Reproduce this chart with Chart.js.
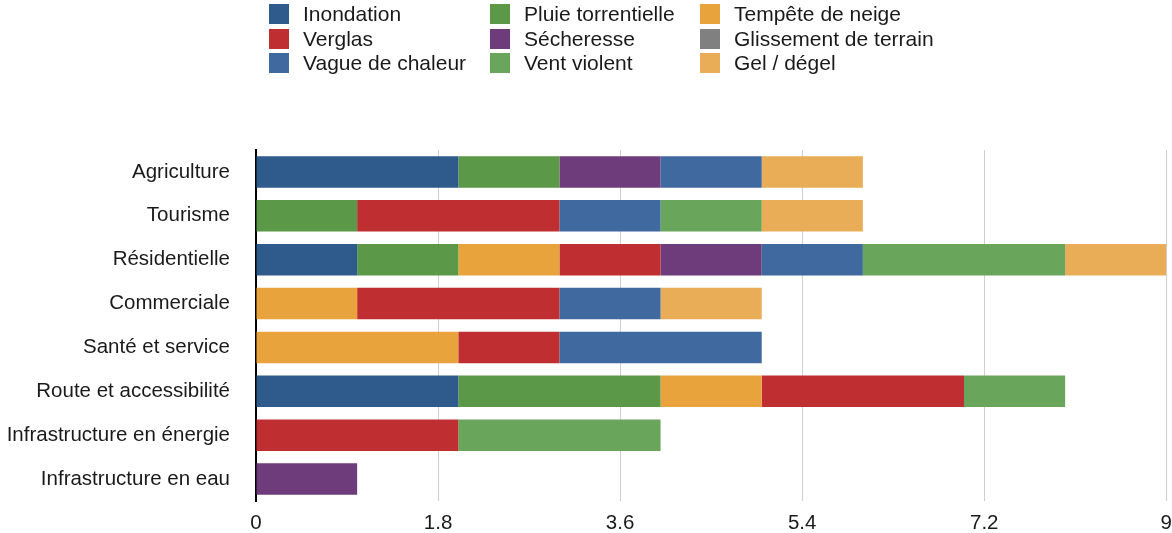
<!DOCTYPE html>
<html>
<head>
<meta charset="utf-8">
<script src="https://cdn.jsdelivr.net/npm/chart.js@4"></script>
<style>
  html, body { margin: 0; padding: 0; background: #fff; }
  #wrap { position: relative; width: 1172px; height: 533px; }
  canvas { position: absolute; left: 0; top: 0; }
  #legend { position: absolute; left: 269px; top: 4px; display: grid;
    grid-template-columns: 221px 210px 240px; row-gap: 4px;
    font-family: "Liberation Sans", Arial, Helvetica, sans-serif; font-size: 21px; color: #1a1a1a; }
  .item { display: flex; align-items: center; height: 20.5px; white-space: nowrap; }
  .sw { width: 20px; height: 20px; margin-right: 14px; flex: none; }
</style>
</head>
<body>
<div id="wrap">
  <canvas id="c" width="1172" height="533"></canvas>
  <div id="legend"></div>
</div>
<script>
const categories = ["Agriculture", "Tourisme", "Résidentielle", "Commerciale", "Santé et service",
  "Route et accessibilité", "Infrastructure en énergie", "Infrastructure en eau"];

const seriesNames = ["Inondation", "Pluie torrentielle", "Tempête de neige", "Verglas", "Sécheresse",
  "Glissement de terrain", "Vague de chaleur", "Vent violent", "Gel / dégel"];

const inondation        = [2, 0, 1, 0, 0, 2, 0, 0];
const pluieTorrentielle = [1, 1, 1, 0, 0, 2, 0, 0];
const tempeteDeNeige    = [0, 0, 1, 1, 2, 1, 0, 0];
const verglas           = [0, 2, 1, 2, 1, 2, 2, 0];
const secheresse        = [1, 0, 1, 0, 0, 0, 0, 1];
const glissement        = [0, 0, 0, 0, 0, 0, 0, 0];
const vagueDeChaleur    = [1, 1, 1, 1, 2, 0, 0, 0];
const ventViolent       = [0, 1, 2, 0, 0, 1, 2, 0];
const gelDegel          = [1, 1, 1, 1, 0, 0, 0, 0];

const xTicks = [0, 1.8, 3.6, 5.4, 7.2, 9];
const xTickLabels = ["0", "1.8", "3.6", "5.4", "7.2", "9"];

const colors = ["#2e5a8c", "#5b9848", "#e8a33c", "#bf2e31", "#6e3b7b", "#808080", "#40699f", "#6aa55c", "#e9ad57"];
const seriesValues = [inondation, pluieTorrentielle, tempeteDeNeige, verglas, secheresse, glissement, vagueDeChaleur, ventViolent, gelDegel];

const leg = document.getElementById('legend');
seriesNames.forEach((n, i) => {
  const d = document.createElement('div');
  d.className = 'item';
  d.innerHTML = '<span class="sw" style="background:' + colors[i] + '"></span><span>' + n + '</span>';
  leg.appendChild(d);
});

const FONT = "'Liberation Sans', Arial, Helvetica, sans-serif";

new Chart(document.getElementById('c'), {
  type: 'bar',
  data: {
    labels: categories,
    datasets: seriesNames.map((n, i) => ({
      label: n,
      data: seriesValues[i],
      backgroundColor: colors[i],
      borderWidth: 0,
      barPercentage: 1,
      categoryPercentage: 0.72
    }))
  },
  options: {
    indexAxis: 'y',
    responsive: false,
    animation: false,
    layout: { padding: { top: 150, right: 0, bottom: 0, left: 0 } },
    plugins: { legend: { display: false }, tooltip: { enabled: false } },
    scales: {
      x: {
        stacked: true,
        min: 0, max: 9,
        afterBuildTicks: (s) => { s.ticks = xTicks.map(v => ({ value: v })); },
        afterFit: (s) => { s.height = 32; },
        ticks: {
          callback: (v, i) => xTickLabels[i],
          color: '#1a1a1a',
          font: { family: FONT, size: 20.5 },
          padding: 0,
          maxRotation: 0
        },
        grid: { color: '#cfcfcf', lineWidth: 1, drawTicks: true, tickLength: 10, tickColor: 'rgba(0,0,0,0)' },
        border: { display: false }
      },
      y: {
        stacked: true,
        afterFit: (s) => { s.width = 256; },
        ticks: {
          color: '#1a1a1a',
          font: { family: FONT, size: 20.5 },
          padding: 0
        },
        grid: { display: false, drawTicks: true, tickLength: 26 },
        border: { display: true, color: '#000', width: 2 }
      }
    }
  }
});
</script>
</body>
</html>
